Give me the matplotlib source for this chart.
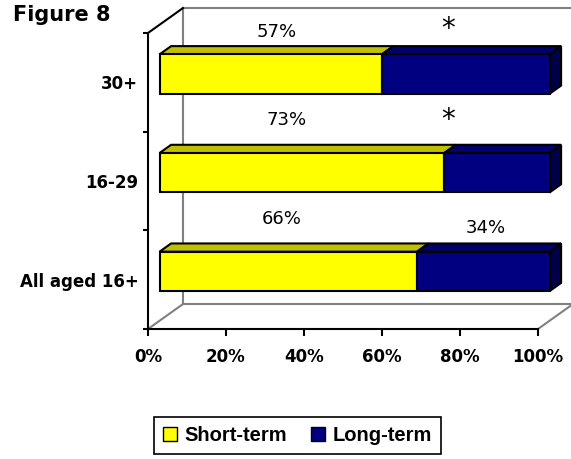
import numpy as np
import matplotlib
matplotlib.use('Agg')
import matplotlib.pyplot as plt
from matplotlib.patches import Polygon, Patch

# data
groups = ['All aged 16+', '16-29', '30+']
short_term = [66, 73, 57]
long_term = [34, 27, 43]
short_labels = ['66%', '73%', '57%']
long_labels = ['34%', '*', '*']
x_ticks = [0, 20, 40, 60, 80, 100]

# where the value labels sit (x in %, y in category units, baseline)
short_label_pos = [(34.4, 0.564), (35.6, 1.567), (33.1, 2.458)]
long_label_pos = [(86.5, 0.473), (76.9, 1.536), (76.9, 2.458)]

# fake 3d depth, in data units
DX = 8.97
DY = 0.253
d0, d1 = 0.33, 0.66
bar_h = 0.4
grey = '#808080'

fig = plt.figure(figsize=(5.71, 4.59), dpi=100)
ax = fig.add_axes([148 / 571, 130 / 459, 390 / 571, 296 / 459])
ax.set_xlim(0, 100)
ax.set_ylim(-0.5, 2.5)

# walls and floor
ylo, yhi = -0.5, 2.5
wall = dict(color=grey, lw=1.5, clip_on=False, zorder=1)
ax.plot([0, DX], [ylo, ylo + DY], **wall)
ax.plot([DX, 100 + DX], [ylo + DY, ylo + DY], **wall)
ax.plot([100, 100 + DX], [ylo, ylo + DY], **wall)
ax.plot([DX, DX], [ylo + DY, yhi + DY], **wall)
ax.plot([DX, 100 + DX], [yhi + DY, yhi + DY], **wall)
ax.plot([100 + DX, 100 + DX], [ylo + DY, yhi + DY], **wall)
ax.plot([0, DX], [yhi, yhi + DY], color='black', lw=1.5, clip_on=False, zorder=2)

# bars
y = np.arange(len(groups))
yf = y + d0 * DY
dd = d1 - d0
segments = [
    (short_term, '#FFFF00', '#C0C000', '#A0A000'),
    (long_term, '#000080', '#00006E', '#000048'),
]
lefts = np.zeros(len(groups))
for k, (vals, face, top, side) in enumerate(segments):
    vals = np.array(vals, dtype=float)
    ax.barh(yf, vals, left=lefts + d0 * DX, height=bar_h, color=face,
            edgecolor='black', linewidth=1.5, clip_on=False, zorder=6)
    for i in range(len(groups)):
        x0 = lefts[i] + d0 * DX
        x1 = x0 + vals[i]
        yt = yf[i] + bar_h / 2
        yb = yf[i] - bar_h / 2
        ax.add_patch(Polygon([(x0, yt), (x1, yt), (x1 + dd * DX, yt + dd * DY),
                              (x0 + dd * DX, yt + dd * DY)], closed=True,
                             facecolor=top, edgecolor='black', lw=1.5,
                             clip_on=False, zorder=4 + k * 0.1))
        if k == len(segments) - 1:
            ax.add_patch(Polygon([(x1, yb), (x1, yt), (x1 + dd * DX, yt + dd * DY),
                                  (x1 + dd * DX, yb + dd * DY)], closed=True,
                                 facecolor=side, edgecolor='black', lw=1.5,
                                 clip_on=False, zorder=4.5))
    lefts = lefts + vals

# value labels
for (lx, ly), txt in zip(short_label_pos, short_labels):
    ax.text(lx, ly, txt, ha='center', va='baseline', fontsize=13,
            family='DejaVu Sans', zorder=8)
for (lx, ly), txt in zip(long_label_pos, long_labels):
    ax.text(lx, ly, txt, ha='center', va='baseline',
            fontsize=20 if txt == '*' else 13, family='DejaVu Sans', zorder=8)

# axes
for s in ['top', 'right']:
    ax.spines[s].set_visible(False)
for s in ['left', 'bottom']:
    ax.spines[s].set_linewidth(1.5)
    ax.spines[s].set_color('black')
    ax.spines[s].set_zorder(3)

ax.set_xticks(x_ticks)
ax.set_xticklabels([f'{t}%' for t in x_ticks], fontweight='bold',
                   family='DejaVu Sans', fontsize=12)
ax.tick_params(axis='x', length=5, width=1.5, pad=9)

ax.set_yticks([-0.5, 0.5, 1.5, 2.5])
ax.set_yticklabels([])
ax.set_yticks(y, minor=True)
ax.set_yticklabels(groups, minor=True, fontweight='bold',
                   family='DejaVu Sans', fontsize=12)
ax.tick_params(axis='y', which='major', length=3.6, width=1.5)
ax.tick_params(axis='y', which='minor', length=0, pad=7)
ax.patch.set_visible(False)

fig.text(13 / 571, 1 - 21 / 459, 'Figure 8', fontsize=15, fontweight='bold',
         family='DejaVu Sans', va='baseline')

handles = [Patch(facecolor='#FFFF00', edgecolor='black', linewidth=1),
           Patch(facecolor='#000080', edgecolor='black', linewidth=1)]
leg = fig.legend(handles, ['Short-term', 'Long-term'], loc='upper left',
                 bbox_to_anchor=(154 / 571, 1 - 417 / 459), ncol=2,
                 fancybox=False, edgecolor='black', framealpha=1,
                 prop={'family': 'Liberation Sans', 'weight': 'bold', 'size': 14.5},
                 handlelength=0.7, handleheight=0.7, handletextpad=0.35,
                 columnspacing=1.2, borderpad=0.45, borderaxespad=0)
leg.get_frame().set_linewidth(1.2)

fig.savefig('out.png', dpi=100)
